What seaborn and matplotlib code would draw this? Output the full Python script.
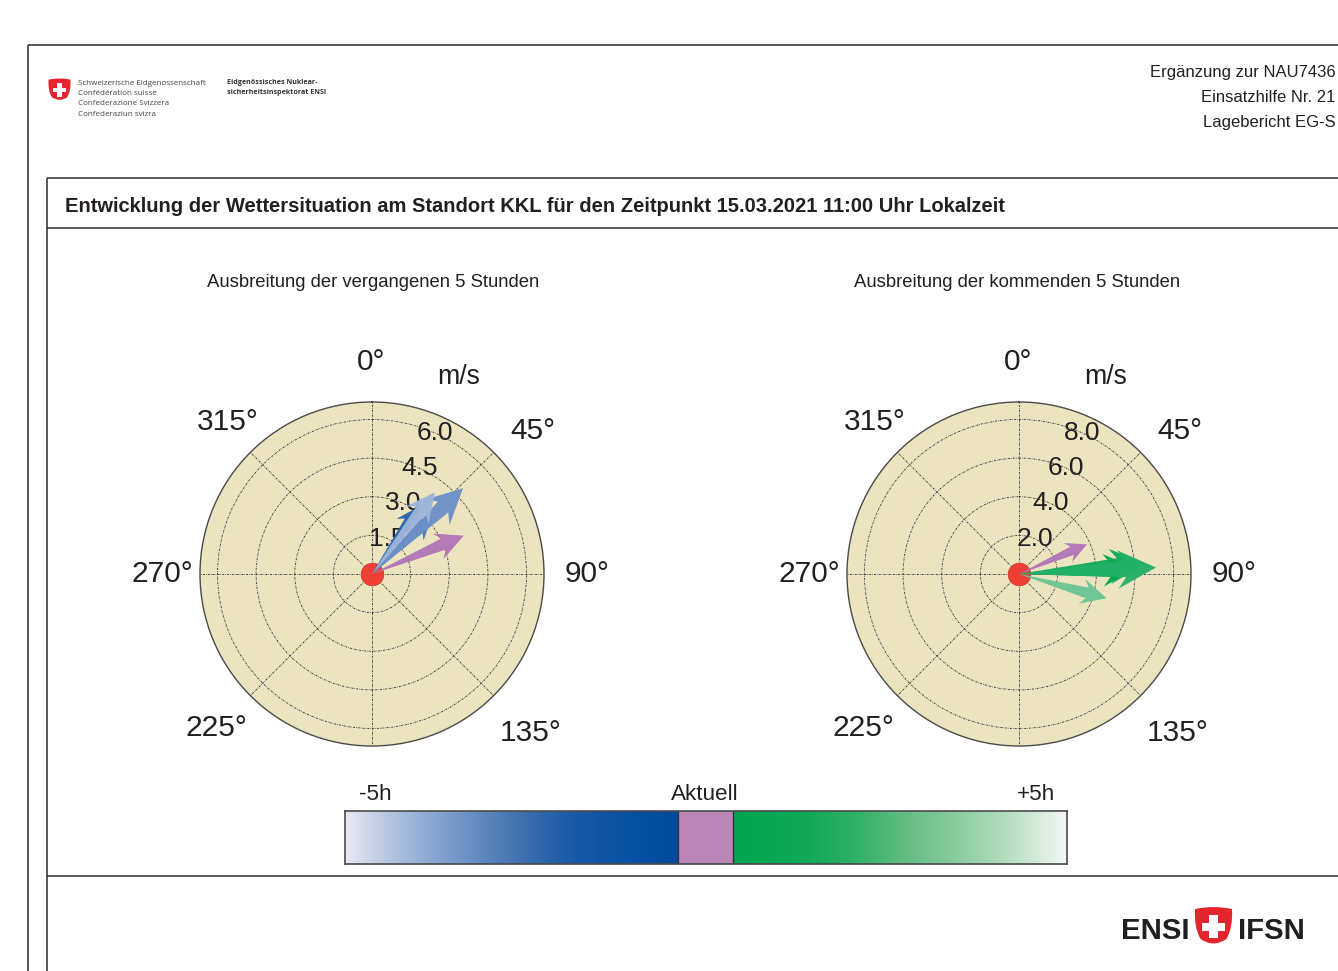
import numpy as np
import pandas as pd
import matplotlib
matplotlib.use("Agg")
import matplotlib.pyplot as plt
import seaborn as sns
from matplotlib.colors import LinearSegmentedColormap
from matplotlib.patches import PathPatch, Rectangle
from matplotlib.path import Path
from matplotlib.transforms import Affine2D

header_right = ["Ergänzung zur NAU7436", "Einsatzhilfe Nr. 21", "Lagebericht EG-S"]
title_text = "Entwicklung der Wettersituation am Standort KKL für den Zeitpunkt 15.03.2021 11:00 Uhr Lokalzeit"
subtitles = ["Ausbreitung der vergangenen 5 Stunden", "Ausbreitung der kommenden 5 Stunden"]
authority_lines = ["Schweizerische Eidgenossenschaft", "Confédération suisse", "Confederazione Svizzera", "Confederaziun svizra"]
inspectorate_lines = ["Eidgenössisches Nuklear-", "sicherheitsinspektorat ENSI"]

theta_ticks = [0, 45, 90, 135, 180, 225, 270, 315]
theta_labels = ["0°", "45°", "90°", "135°", "", "225°", "270°", "315°"]
# pixel nudges of the direction labels relative to their symmetric place
theta_nudges = [(-0.5, -2), (10, -8), (1, 0), (8, -8), (0, 0), (-5, -3), (4, 0), (7, 1)]

past_rings = [1.5, 3.0, 4.5, 6.0]
past_rmax = 6.68
past_dirs = [35, 46, 46.7, 37.6, 67.3]
past_speeds = [3.2, 3.25, 4.86, 4.0, 3.86]
past_colors = ["#2a62ac", "#4b78b8", "#6d90c8", "#9db5dc", "#b276b8"]

next_rings = [2.0, 4.0, 6.0, 8.0]
next_rmax = 8.9
next_dirs = [87.4, 85.2, 87.3, 105.5, 66.4]
next_speeds = [6.05, 6.55, 7.1, 4.7, 3.84]
next_colors = ["#00a651", "#12aa5c", "#22b06a", "#6cc596", "#b276b8"]

bar_stops = [(0.0, "#e6eaf4"), (0.04, "#c5d0e6"), (0.08, "#a4bbdc"), (0.143, "#7b9ccb"),
             (0.244, "#3f6fae"), (0.31, "#1a5aa8"), (0.378, "#0a52a3"), (0.461, "#004a9c"),
             (0.461, "#bd86b8"), (0.537, "#bd86b8"),
             (0.537, "#00a651"), (0.639, "#10a858"), (0.708, "#2fb068"), (0.773, "#5fbb82"),
             (0.838, "#85c99c"), (0.903, "#aad9b8"), (0.972, "#dcefe0"), (1.0, "#f3f8f3")]
bar_labels = ["-5h", "Aktuell", "+5h"]
bar_label_cells = [30, 360, 691]

FIG_W, FIG_H = 1338, 971
FONT = "Liberation Sans"
INK = "#231f20"

sns.set_theme(style="white", rc={"font.family": FONT, "text.color": INK,
                                 "xtick.color": INK, "ytick.color": INK})
fig = plt.figure(figsize=(FIG_W / 100, FIG_H / 100), dpi=100, facecolor="white")


def px_rect(x0, y0, x1, y1):
    return [x0 / FIG_W, 1 - y1 / FIG_H, (x1 - x0) / FIG_W, (y1 - y0) / FIG_H]


page = fig.add_axes([0, 0, 1, 1], zorder=0)
page.set_xlim(0, FIG_W)
page.set_ylim(FIG_H, 0)
page.axis("off")

for xs, ys in [((28, 28), (45, 971)), ((28, 1338), (45, 45)), ((47, 47), (178, 971)),
               ((47, 1338), (178, 178)), ((47, 1338), (228.5, 228.5)), ((47, 1338), (876, 876))]:
    page.plot(xs, ys, color="#2b2b2b", lw=1.1, solid_capstyle="butt")


def shield(ax, x0, y0, w, h):
    verts = np.array([(0, 0.05), (0.5, -0.05), (1, 0.05), (1.03, 0.5), (0.85, 0.78), (0.5, 1.0),
                      (0.15, 0.78), (-0.03, 0.5), (0, 0.05), (0, 0.05)])
    verts = verts * [w, h] + [x0, y0]
    codes = [Path.MOVETO, Path.CURVE3, Path.CURVE3, Path.CURVE3, Path.CURVE3, Path.CURVE3,
             Path.CURVE3, Path.CURVE3, Path.CURVE3, Path.CLOSEPOLY]
    ax.add_patch(PathPatch(Path(verts, codes), fc="#e3262e", ec="none"))
    cx, cy = x0 + w / 2, y0 + h * 0.48
    span, bar = w * 0.62, w * 0.22
    ax.add_patch(Rectangle((cx - span / 2, cy - bar / 2), span, bar, fc="white", ec="none"))
    ax.add_patch(Rectangle((cx - bar / 2, cy - span / 2), bar, span, fc="white", ec="none"))


shield(page, 48.5, 78.5, 22, 24)
shield(page, 1195, 907, 37, 41)

for i, line in enumerate(authority_lines):
    page.text(78, 83.5 + i * 10.2, line, fontsize=5.78, family="Open Sans", color="#444444", va="center")
for i, line in enumerate(inspectorate_lines):
    page.text(227, 83 + i * 9.5, line, fontsize=5.1, family="Open Sans", weight="bold", color="#333333", va="center")
for i, line in enumerate(header_right):
    page.text(1335.5, 72 + i * 25, line, fontsize=12.0, ha="right", va="center", color=INK)

page.text(65, 207, title_text, fontsize=14.54, weight="bold", va="center", color=INK)
page.text(373.5, 282.5, subtitles[0], fontsize=13.35, ha="center", va="center", color=INK)
page.text(1017.5, 282.5, subtitles[1], fontsize=13.35, ha="center", va="center", color=INK)
page.text(1121, 931, "ENSI", fontsize=21.2, weight="bold", va="center", color=INK)
page.text(1238, 931, "IFSN", fontsize=21.2, weight="bold", va="center", color=INK)
page.text(458.5, 377.5, "m/s", fontsize=19.2, ha="center", va="center", color=INK)
page.text(1106, 377.5, "m/s", fontsize=19.2, ha="center", va="center", color=INK)


def draw_arrow(ax, direction_deg, speed, color):
    """Tapered wind arrow whose head scales with its speed."""
    a = np.deg2rad(direction_deg)
    along = np.array([np.sin(a), np.cos(a)])
    across = np.array([along[1], -along[0]])
    shape = [(0.0, 0.0), (0.78, 0.06), (0.72, 0.14), (1.0, 0.0), (0.72, -0.14), (0.78, -0.06)]
    pts = np.array([speed * (f * along + w * across) for f, w in shape])
    theta = np.arctan2(pts[:, 0], pts[:, 1])
    radius = np.hypot(pts[:, 0], pts[:, 1])
    theta[0] = a
    ax.fill(theta, radius, color=color, lw=0, alpha=0.96, zorder=5)


def compass(center_x, rings, rmax, dirs, speeds, colors):
    r_px = 172
    ax = fig.add_axes(px_rect(center_x - r_px, 574 - r_px, center_x + r_px, 574 + r_px),
                      projection="polar", zorder=2)
    ax.set_theta_zero_location("N")
    ax.set_theta_direction(-1)
    ax.set_facecolor("#ece4bf")
    sns.scatterplot(x=[0.0], y=[0.0], ax=ax, s=265, color="#ee4035", edgecolor="#d23a30",
                    linewidth=0.6, zorder=4, clip_on=False, legend=False)
    ax.set_xlabel("")
    ax.set_ylabel("")
    for d, s, c in zip(dirs, speeds, colors):
        draw_arrow(ax, d, s, c)
    ax.set_ylim(0, rmax)
    ax.set_xticks(np.deg2rad(theta_ticks))
    ax.set_xticklabels(theta_labels, fontsize=21.5)
    ax.tick_params(axis="x", pad=17)
    ax.set_yticks(rings)
    ax.set_yticklabels([f"{v:.1f}" for v in rings], fontsize=19, ha="center", va="center")
    ax.set_rlabel_position(24)
    ax.grid(True, color="#3c3c3c", lw=0.65, ls=(0, (2.2, 1.2, 0.7, 1.2)))
    ax.spines["polar"].set_color("#4a4a4a")
    ax.spines["polar"].set_linewidth(1.0)
    for tick, (dx, dy) in zip(ax.xaxis.get_major_ticks(), theta_nudges):
        tick.label1.set_transform(tick.label1.get_transform() + Affine2D().translate(dx, dy))
    return ax


compass(372, past_rings, past_rmax, past_dirs, past_speeds, past_colors)
compass(1019, next_rings, next_rmax, next_dirs, next_speeds, next_colors)

bar_ax = fig.add_axes(px_rect(345, 811, 1067, 864), zorder=2)
bar_cmap = LinearSegmentedColormap.from_list("timeline", bar_stops, N=1024)
bar_cells = pd.DataFrame([np.linspace(0, 1, 722)])
sns.heatmap(bar_cells, ax=bar_ax, cmap=bar_cmap, vmin=0, vmax=1, cbar=False,
            xticklabels=False, yticklabels=False)
bar_ax.set_xticks(bar_label_cells)
bar_ax.set_xticklabels(bar_labels, fontsize=16.2, rotation=0)
bar_ax.xaxis.tick_top()
bar_ax.tick_params(axis="x", length=0, pad=4.5)
bar_ax.set_yticks([])
for spine in bar_ax.spines.values():
    spine.set_visible(True)
    spine.set_color("#4a4a4a")
    spine.set_linewidth(1.2)
for cell in (333, 388):
    bar_ax.axvline(cell, color="#333344", lw=1.0)

fig.savefig("out.png", dpi=100, facecolor="white")
